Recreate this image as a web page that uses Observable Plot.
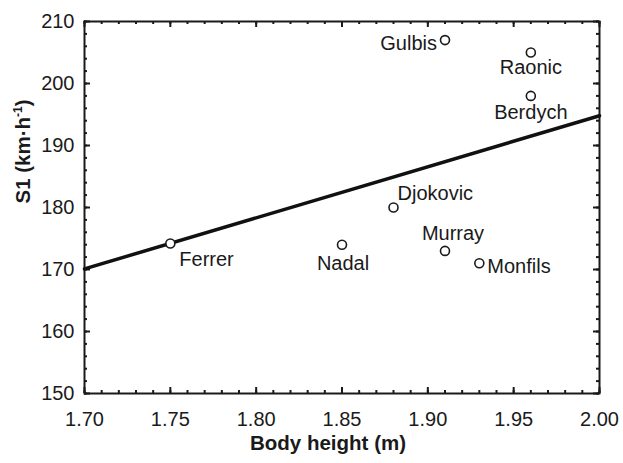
<!DOCTYPE html>
<html>
<head>
<meta charset="utf-8">
<script src="https://cdn.jsdelivr.net/npm/d3@7"></script>
<script src="https://cdn.jsdelivr.net/npm/@observablehq/plot@0.6"></script>
<style>
  html, body { margin: 0; padding: 0; background: #fff; }
</style>
</head>
<body>
<div id="chart"></div>
<script>
// ---- data ----
const players = ["Ferrer", "Nadal", "Djokovic", "Murray", "Gulbis", "Monfils", "Raonic", "Berdych"];
const heights = [1.75, 1.85, 1.88, 1.91, 1.91, 1.93, 1.96, 1.96];
const s1Values = [174.2, 174, 180, 173, 207, 171, 205, 198];

// regression line end points
const fitX = [1.70, 2.00];
const fitY = [170.1, 194.8];

// axis ticks
const xTickLabels = [1.70, 1.75, 1.80, 1.85, 1.90, 1.95, 2.00];
const yTickLabels = [150, 160, 170, 180, 190, 200, 210];
const xMinorTicks = d3.range(170, 201, 1).map(v => v / 100);
const yMinorTicks = d3.range(150, 211, 2);

const points = players.map((name, i) => ({name, height: heights[i], s1: s1Values[i]}));
const fit = fitX.map((x, i) => ({x, y: fitY[i]}));

// ---- layout / style ----
const W = 623, H = 463;
const mL = 84, mR = 24, mT = 21, mB = 70;
const innerW = W - mL - mR, innerH = H - mT - mB;
const ink = "#1a1a1a";
const yTitle = "S1 (km·h-1)";

const placement = {
  Gulbis:   {textAnchor: "end",    lineAnchor: "middle", dx: -8, dy: 3.5},
  Raonic:   {textAnchor: "middle", lineAnchor: "top",    dx: 0,  dy: 7.5},
  Berdych:  {textAnchor: "middle", lineAnchor: "top",    dx: 0,  dy: 9},
  Djokovic: {textAnchor: "start",  lineAnchor: "bottom", dx: 4,  dy: -8},
  Murray:   {textAnchor: "middle", lineAnchor: "bottom", dx: 8,  dy: -11},
  Monfils:  {textAnchor: "start",  lineAnchor: "middle", dx: 8,  dy: 3},
  Nadal:    {textAnchor: "middle", lineAnchor: "top",    dx: 1,  dy: 11.5},
  Ferrer:   {textAnchor: "start",  lineAnchor: "top",    dx: 9,  dy: 8}
};

const labelMarks = points.map(p =>
  Plot.text([p], {x: "height", y: "s1", text: "name", fill: ink, fontSize: 20, ...placement[p.name]})
);

const chart = Plot.plot({
  width: W,
  height: H,
  marginLeft: mL,
  marginRight: mR,
  marginTop: mT,
  marginBottom: mB,
  style: {fontFamily: "Arial, 'Liberation Sans', sans-serif", fontSize: "20px", color: ink, background: "#fff"},
  x: {domain: [1.70, 2.00]},
  y: {domain: [150, 210]},
  marks: [
    // inner minor ticks
    Plot.tickX(xMinorTicks, {x: d => d, stroke: ink, strokeWidth: 2, insetTop: innerH - 3}),
    Plot.tickX(xMinorTicks, {x: d => d, stroke: ink, strokeWidth: 2, insetBottom: innerH - 3}),
    Plot.tickY(yMinorTicks, {y: d => d, stroke: ink, strokeWidth: 2, insetRight: innerW - 3}),
    Plot.tickY(yMinorTicks, {y: d => d, stroke: ink, strokeWidth: 2, insetLeft: innerW - 3}),
    // inner major ticks
    Plot.tickX(xTickLabels, {x: d => d, stroke: ink, strokeWidth: 2, insetTop: innerH - 6}),
    Plot.tickX(xTickLabels, {x: d => d, stroke: ink, strokeWidth: 2, insetBottom: innerH - 6}),
    Plot.tickY(yTickLabels, {y: d => d, stroke: ink, strokeWidth: 2, insetRight: innerW - 6}),
    Plot.tickY(yTickLabels, {y: d => d, stroke: ink, strokeWidth: 2, insetLeft: innerW - 6}),
    Plot.frame({stroke: ink, strokeWidth: 2}),
    Plot.axisX({ticks: xTickLabels, tickSize: 0, tickPadding: 18, tickFormat: d3.format(".2f"), label: null, fill: ink}),
    Plot.axisY({ticks: yTickLabels, tickSize: 0, tickPadding: 10, tickFormat: d3.format("d"), label: null, fill: ink}),
    // axis titles
    Plot.text(["Body height (m)"], {frameAnchor: "bottom", text: d => d, dy: 56, dx: -14, fontWeight: "bold", fontSize: 20.5, fill: ink}),
    Plot.text([yTitle], {frameAnchor: "left", text: d => d, rotate: -90, dx: -61, dy: -4, fontWeight: "bold", fontSize: 20.5, fill: ink}),
    // regression line
    Plot.line(fit, {x: "x", y: "y", stroke: "#111", strokeWidth: 3.5}),
    // points
    Plot.dot(points, {x: "height", y: "s1", r: 4.5, fill: "#fff", stroke: ink, strokeWidth: 1.6}),
    ...labelMarks
  ]
});

// superscript for the y title
d3.select(chart).selectAll("text").each(function() {
  if (this.textContent === yTitle) {
    const t = d3.select(this);
    t.text(null);
    t.append("tspan").text("S1 (km·h");
    t.append("tspan").attr("font-size", "12px").attr("dy", "-8").text("-1");
    t.append("tspan").attr("dy", "8").text(")");
  }
});

document.getElementById("chart").appendChild(chart);
</script>
</body>
</html>
